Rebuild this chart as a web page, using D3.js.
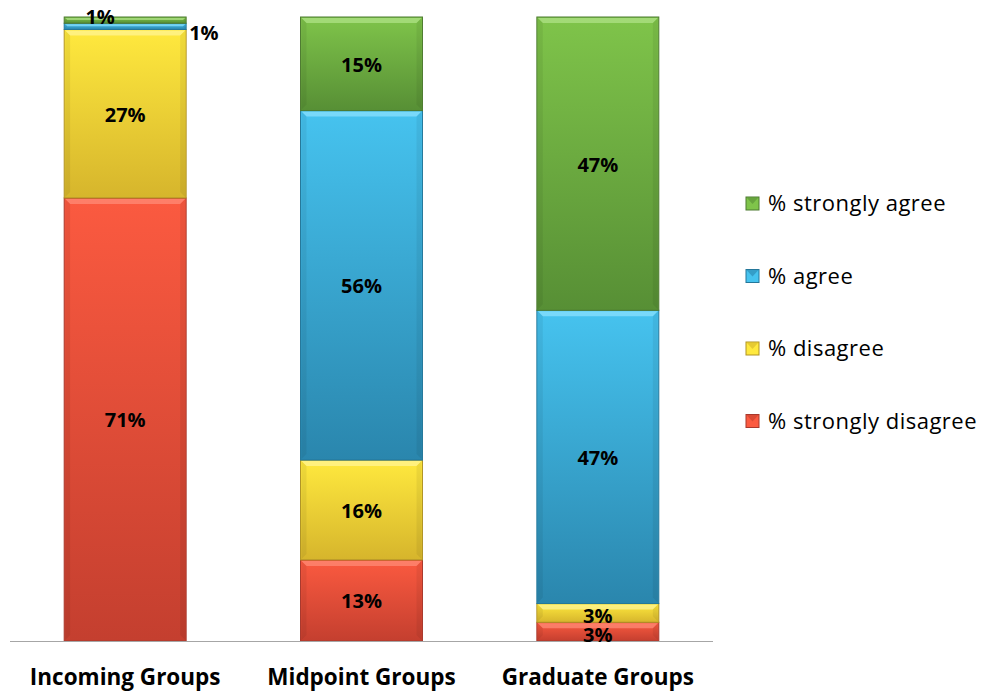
<!DOCTYPE html>
<html><head><meta charset="utf-8">
<script src="https://cdn.jsdelivr.net/npm/d3@7"></script>
<style>body{margin:0;background:#fff;} svg{display:block;}</style>
</head><body>
<svg id="chart" width="985" height="692"></svg>
<script>
const categories = ["Incoming Groups", "Midpoint Groups", "Graduate Groups"];
const seriesNames = ["% strongly disagree", "% disagree", "% agree", "% strongly agree"];
const stronglyDisagree = [71, 13, 3];
const disagree = [27, 16, 3];
const agree = [1, 56, 47];
const stronglyAgree = [1, 15, 47];
const seriesValues = [stronglyDisagree, disagree, agree, stronglyAgree];
const colors = {
  "% strongly disagree": {top:"#fb5a40", bot:"#c43f2f", edge:"#a8382c", hi:"#ff8f7a"},
  "% disagree": {top:"#ffe93e", bot:"#d6b52c", edge:"#b09325", hi:"#fff59a"},
  "% agree": {top:"#46c3ef", bot:"#2a86ad", edge:"#24779a", hi:"#8fe2ff"},
  "% strongly agree": {top:"#7fc44a", bot:"#578f35", edge:"#4d7a30", hi:"#b2e48a"}
};

const rows = categories.map((c, i) => {
  const r = {category: c};
  seriesNames.forEach((s, j) => r[s] = seriesValues[j][i]);
  return r;
});

const svg = d3.select("#chart");
const x = d3.scaleBand().domain(categories).range([7, 716]).paddingInner(0.484).paddingOuter(0.242);
const y = d3.scaleLinear().domain([0, 100]).range([641, 17]);

const defs = svg.append("defs");
seriesNames.forEach((s, j) => {
  const g = defs.append("linearGradient").attr("id", "g" + j).attr("x1", 0).attr("y1", 0).attr("x2", 0).attr("y2", 1);
  g.append("stop").attr("offset", "0%").attr("stop-color", colors[s].top);
  g.append("stop").attr("offset", "100%").attr("stop-color", colors[s].bot);
});

const stack = d3.stack().keys(seriesNames)(rows);

const layers = svg.append("g").selectAll("g").data(stack).join("g");
layers.each(function(layer, j) {
  const s = seriesNames[j];
  const g = d3.select(this);
  g.selectAll("rect.seg").data(layer).join("rect").attr("class", "seg")
    .attr("x", d => x(d.data.category))
    .attr("width", x.bandwidth())
    .attr("y", d => y(d[1]))
    .attr("height", d => y(d[0]) - y(d[1]))
    .attr("fill", "url(#g" + j + ")")
    .attr("stroke", colors[s].edge).attr("stroke-width", 1);
  g.selectAll("path.hi").data(layer).join("path").attr("class", "hi")
    .attr("d", d => {
      const x0 = x(d.data.category) + 1, x1 = x0 + x.bandwidth() - 2;
      const t = y(d[1]) + 1;
      const h = Math.min(5, (y(d[0]) - y(d[1])) / 3);
      return `M${x0},${t}L${x1},${t}L${x1 - h},${t + h}L${x0 + h},${t + h}Z`;
    })
    .attr("fill", colors[s].hi).attr("opacity", 0.7);
  g.selectAll("path.sd").data(layer).join("path").attr("class", "sd")
    .attr("d", d => {
      const x0 = x(d.data.category) + 1, x1 = x0 + x.bandwidth() - 2;
      const t = y(d[1]) + 1, b = y(d[0]) - 1;
      const h = Math.min(5, (y(d[0]) - y(d[1])) / 3);
      return `M${x0},${t}L${x0 + h},${t + h}L${x0 + h},${b - h}L${x0},${b}Z M${x1},${t}L${x1 - h},${t + h}L${x1 - h},${b - h}L${x1},${b}Z`;
    })
    .attr("fill", "#000").attr("opacity", 0.06);
});

svg.append("line").attr("x1", 10).attr("x2", 713).attr("y1", 641.5).attr("y2", 641.5)
  .attr("stroke", "#a6a6a6").attr("stroke-width", 1.2);

const xAxis = d3.axisBottom(x).tickSize(0).tickPadding(0);
const ax = svg.append("g").attr("transform", "translate(0,641)").call(xAxis);
ax.select(".domain").remove();
ax.selectAll("text").attr("y", 44).attr("dy", 0)
  .attr("font-family", "'Open Sans', sans-serif").attr("font-weight", "bold").attr("font-size", 22.5)
  .attr("fill", "#000");

const labels = svg.append("g").attr("font-family", "'Open Sans', sans-serif").attr("font-weight", "bold")
  .attr("font-size", 20).attr("fill", "#000").attr("text-anchor", "middle");
stack.forEach((layer, j) => {
  layer.forEach((d, i) => {
    const v = d[1] - d[0];
    let cx = x(d.data.category) + x.bandwidth() / 2;
    let cy = (y(d[0]) + y(d[1])) / 2 + 8;
    let anchor = "middle";
    if (v < 2 && j === 3) { cx -= 25; cy = y(d[1]) + 7; }
    else if (v < 2) { cx = x(d.data.category) + x.bandwidth() + 3; cy = y(d[1]) + 17; anchor = "start"; }
    else if (v < 5) { cy += 2; }
    labels.append("text").attr("x", cx).attr("y", cy).attr("text-anchor", anchor).text(v + "%");
  });
});

const legendOrder = seriesNames.slice().reverse();
const lg = svg.append("g");
legendOrder.forEach((s, i) => {
  const yy = 203 + i * 72.5;
  const g = lg.append("g").attr("transform", `translate(746,${yy})`);
  g.append("rect").attr("x", 0).attr("y", -6).attr("width", 13).attr("height", 13)
    .attr("fill", colors[s].top).attr("stroke", colors[s].edge).attr("stroke-width", 1);
  g.append("path").attr("d", "M0.5,-5.5L12.5,-5.5L6.5,1Z").attr("fill", colors[s].bot).attr("opacity", 0.6);
  g.append("text").attr("x", 22).attr("y", 8).attr("font-family", "'Open Sans', sans-serif")
    .attr("font-size", 22).attr("letter-spacing", 0.5).attr("fill", "#000").text(s);
});
</script>
</body></html>
